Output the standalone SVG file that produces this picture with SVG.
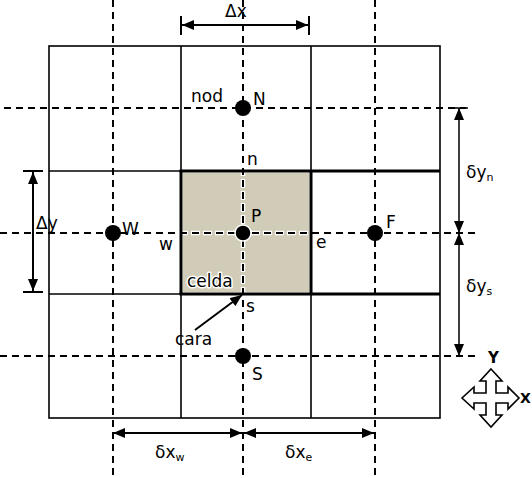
<svg xmlns="http://www.w3.org/2000/svg" width="532" height="478" viewBox="0 0 532 478">
<style>
.grid{stroke:#000;stroke-width:1.6;fill:none}
.thick{stroke:#000;stroke-width:3;fill:none}
.dash{stroke:#000;stroke-width:2;stroke-dasharray:7 5;fill:none}
.halo{stroke:#fff;stroke-width:4.5;stroke-dasharray:9 3;fill:none}
.dim{stroke:#000;stroke-width:2;fill:none}
.dimt{stroke:#000;stroke-width:1.5;fill:none}
text{font-family:"DejaVu Sans",Verdana,sans-serif;font-size:17px;fill:#000}
.sub{font-size:11px}
.dot{fill:#000}
</style>
<defs>
<marker id="ah" viewBox="0 0 12 10" refX="12" refY="5" markerWidth="12" markerHeight="10" markerUnits="userSpaceOnUse" orient="auto-start-reverse">
<path d="M0,0 L12,5 L0,10 z" fill="#000"/>
</marker>
</defs>
<rect width="532" height="478" fill="#fff"/>
<g id="cell">
<rect x="182.5" y="172.5" width="127" height="120" fill="#D1CCB8" stroke="#fff" stroke-width="1"/>
</g>
<g id="grid">
<rect x="49" y="46" width="391" height="372" class="grid"/>
<line x1="181" y1="46" x2="181" y2="418" class="grid"/>
<line x1="311" y1="46" x2="311" y2="418" class="grid"/>
<line x1="49" y1="171" x2="440" y2="171" class="grid"/>
<line x1="49" y1="294" x2="440" y2="294" class="grid"/>
<line x1="179.5" y1="171" x2="440" y2="171" class="thick"/>
<line x1="179.5" y1="294" x2="440" y2="294" class="thick"/>
<line x1="181" y1="171" x2="181" y2="294" class="thick"/>
<line x1="311" y1="171" x2="311" y2="294" class="thick"/>
</g>
<g id="connectors">
<line x1="113" y1="0" x2="113" y2="478" class="dash"/>
<line x1="243" y1="0" x2="243" y2="478" class="dash"/>
<line x1="375" y1="0" x2="375" y2="478" class="dash"/>
<line x1="4" y1="108" x2="466" y2="108" class="dash"/>
<line x1="0" y1="233" x2="478" y2="233" class="dash"/>
<line x1="0" y1="356" x2="478" y2="356" class="dash"/>
<line x1="243" y1="173" x2="243" y2="292" class="halo" stroke-dashoffset="6"/>
<line x1="243" y1="173" x2="243" y2="292" class="dash" stroke-dashoffset="5"/>
<line x1="183" y1="233" x2="309" y2="233" class="halo" stroke-dashoffset="4"/>
<line x1="183" y1="233" x2="309" y2="233" class="dash" stroke-dashoffset="3"/>
<line x1="181" y1="16" x2="181" y2="35" class="dim"/>
<line x1="309" y1="16" x2="309" y2="35" class="dim"/>
<line x1="182" y1="25" x2="308" y2="25" class="dim" marker-start="url(#ah)" marker-end="url(#ah)"/>
<line x1="23" y1="171" x2="43" y2="171" class="dim"/>
<line x1="23" y1="292" x2="43" y2="292" class="dim"/>
<line x1="33" y1="172" x2="33" y2="291" class="dim" marker-start="url(#ah)" marker-end="url(#ah)"/>
<line x1="450" y1="108" x2="468" y2="108" class="dimt"/>
<line x1="459" y1="108" x2="459" y2="233" class="dimt" marker-start="url(#ah)" marker-end="url(#ah)"/>
<line x1="459" y1="233" x2="459" y2="356" class="dimt" marker-start="url(#ah)" marker-end="url(#ah)"/>
<line x1="113" y1="433" x2="242" y2="433" class="dim" marker-start="url(#ah)" marker-end="url(#ah)"/>
<line x1="244" y1="433" x2="374" y2="433" class="dim" marker-start="url(#ah)" marker-end="url(#ah)"/>
<line x1="195" y1="330" x2="242" y2="295" class="dim" marker-end="url(#ah)"/>
</g>
<g id="node-N"><circle cx="243" cy="108" r="8" class="dot"/><text x="253" y="105">N</text></g>
<g id="node-W"><circle cx="113" cy="233" r="8" class="dot"/><text x="122" y="235">W</text></g>
<g id="node-P"><circle cx="243" cy="233" r="8" class="dot" stroke="#fff" stroke-width="1.5"/><text x="251" y="222">P</text></g>
<g id="node-F"><circle cx="375" cy="233" r="8" class="dot"/><text x="386" y="228">F</text></g>
<g id="node-S"><circle cx="243" cy="356" r="8" class="dot"/><text x="252" y="380">S</text></g>
<g id="labels">
<text x="191" y="102">nod</text>
<text x="247" y="165">n</text>
<text x="159" y="250">w</text>
<text x="316" y="248">e</text>
<text x="246" y="312">s</text>
<text x="187" y="287" stroke="#fff" stroke-width="3" paint-order="stroke" stroke-linejoin="round">celda</text>
<text x="175" y="345">cara</text>
<text x="225" y="17">Δx</text>
<text x="36" y="229">Δy</text>
<text x="466" y="178">δy<tspan class="sub" dy="3">n</tspan></text>
<text x="466" y="292">δy<tspan class="sub" dy="3">s</tspan></text>
<text x="155" y="458">δx<tspan class="sub" dy="3">w</tspan></text>
<text x="285" y="458">δx<tspan class="sub" dy="3">e</tspan></text>
<text x="488" y="363" style="font-size:15px;font-weight:bold">Y</text>
<text x="520" y="403" style="font-size:14px;font-weight:bold">X</text>
</g>
<g id="axes-icon">
<polygon points="491,369 502,381 496,381 496,393 508,393 508,387 519,398 508,409 508,403 496,403 496,415 502,415 491,427 480,415 486,415 486,403 474,403 474,409 462,398 474,387 474,393 486,393 486,381 480,381" fill="#fff" stroke="#000" stroke-width="1.6" stroke-linejoin="miter"/>
</g>
</svg>
